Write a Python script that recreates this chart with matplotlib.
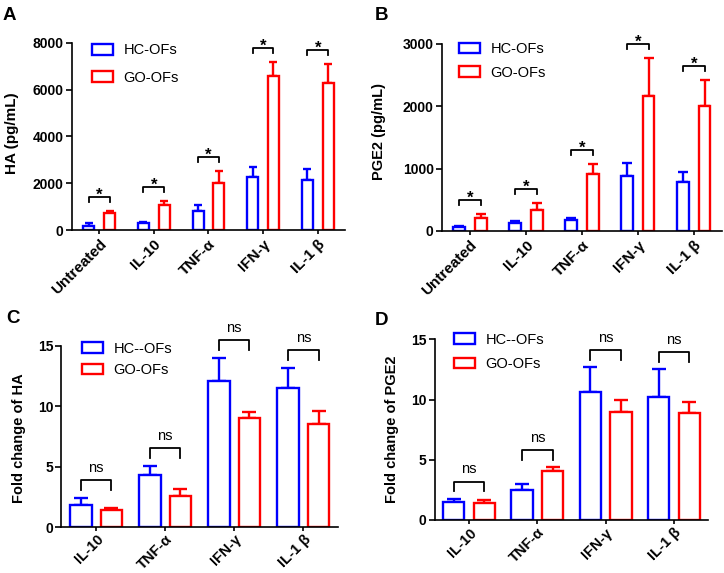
import numpy as np
import matplotlib
matplotlib.use("Agg")
import matplotlib.pyplot as plt

plt.rcParams['font.family'] = ['Liberation Sans', 'DejaVu Sans']

# podatki -------------------------------------------------
kat_AB = ["Untreated", "IL-10", "TNF-α", "IFN-γ", "IL-1 β"]
kat_CD = ["IL-10", "TNF-α", "IFN-γ", "IL-1 β"]

# A: HA (pg/mL)
ha_hc = [170, 285, 830, 2270, 2160]
ha_hc_err = [110, 70, 260, 440, 430]
ha_go = [710, 1070, 2000, 6590, 6270]
ha_go_err = [115, 170, 540, 615, 840]

# B: PGE2 (pg/mL)
pge_hc = [60, 123, 182, 882, 791]
pge_hc_err = [26, 32, 21, 214, 156]
pge_go = [214, 342, 914, 2171, 2011]
pge_go_err = [64, 113, 166, 599, 411]

# C: fold change HA
fc_ha_hc = [1.84, 4.36, 12.11, 11.53]
fc_ha_hc_err = [0.57, 0.71, 1.86, 1.62]
fc_ha_go = [1.45, 2.60, 9.01, 8.55]
fc_ha_go_err = [0.14, 0.60, 0.50, 1.07]

# D: fold change PGE2
fc_pge_hc = [1.52, 2.46, 10.66, 10.19]
fc_pge_hc_err = [0.25, 0.53, 2.02, 2.32]
fc_pge_go = [1.38, 4.10, 8.94, 8.88]
fc_pge_go_err = [0.25, 0.27, 1.02, 0.89]

znaki_AB = ["*", "*", "*", "*", "*"]
znaki_CD = ["ns", "ns", "ns", "ns"]

lw = 1.7


def panel(ax, kat, hc, hc_err, go, go_err, ymax, yticks, ylabel, labels, znaki,
          sirina, zamik, cap, pad, noga, leg_xy, leg_sp, lab_xy, lab_fs, x_fs, x_pad):
    x = np.arange(len(kat))
    n = len(kat)
    ax.bar(x - zamik, hc, sirina, color="white", edgecolor="blue", linewidth=lw,
           label=labels[0], zorder=2)
    ax.bar(x + zamik, go, sirina, color="white", edgecolor="red", linewidth=lw,
           label=labels[1], zorder=2)
    ax.errorbar(x - zamik, hc, yerr=[np.zeros(n), hc_err], fmt="none", ecolor="blue",
                elinewidth=lw, capsize=cap, capthick=lw, zorder=1)
    ax.errorbar(x + zamik, go, yerr=[np.zeros(n), go_err], fmt="none", ecolor="red",
                elinewidth=lw, capsize=cap, capthick=lw, zorder=1)

    # oklepaji z oznakami
    vrh = np.maximum(np.array(hc) + np.array(hc_err), np.array(go) + np.array(go_err))
    for i in range(n):
        y = vrh[i] + pad * ymax
        h = noga * ymax
        ax.plot([x[i] - zamik, x[i] - zamik, x[i] + zamik, x[i] + zamik],
                [y - h, y, y, y - h], color="black", lw=1.3, clip_on=False)
        if znaki[i] == "*":
            ax.annotate("*", (x[i], y), xytext=(0, -2), textcoords="offset points",
                        ha="center", va="baseline", fontsize=12, fontweight="bold",
                        annotation_clip=False)
        else:
            ax.annotate(znaki[i], (x[i], y), xytext=(0, 6), textcoords="offset points",
                        ha="center", va="baseline", fontsize=10.5, annotation_clip=False)

    ax.set_xlim(-0.5, n - 0.5)
    ax.set_ylim(0, ymax)
    ax.set_yticks(yticks)
    ax.set_xticks(x)
    ax.set_xticklabels(kat, rotation=45, ha="right", rotation_mode="anchor",
                       fontsize=x_fs, fontweight="bold")
    for t in ax.get_yticklabels():
        t.set_fontsize(10)
        t.set_fontweight("bold")
    ax.set_ylabel(ylabel, fontsize=lab_fs, fontweight="bold")
    ax.yaxis.set_label_coords(lab_xy[0], lab_xy[1])
    ax.spines["top"].set_visible(False)
    ax.spines["right"].set_visible(False)
    ax.spines["left"].set_linewidth(1.2)
    ax.spines["bottom"].set_linewidth(1.2)
    ax.tick_params(axis="y", direction="out", length=4, width=1.2, pad=2)
    ax.tick_params(axis="x", direction="out", length=3, width=1.2, pad=x_pad)
    ax.legend(loc="upper left", bbox_to_anchor=leg_xy, frameon=False, fontsize=10.5,
              handlelength=1.45, handleheight=0.75, handletextpad=0.7,
              labelspacing=leg_sp, borderpad=0, borderaxespad=0)


fig = plt.figure(figsize=(7.24, 5.73), dpi=100)

axA = fig.add_axes([0.0994, 0.5986, 0.3771, 0.3264])
panel(axA, kat_AB, ha_hc, ha_hc_err, ha_go, ha_go_err, 8000, [0, 2000, 4000, 6000, 8000],
      "HA (pg/mL)", ["HC-OFs", "GO-OFs"], znaki_AB, 0.2, 0.19, 3.2, 0.075, 0.027,
      (0.073, 0.998), 0.92, (-0.193, 0.52), 11, 11, 2)

axB = fig.add_axes([0.6105, 0.5969, 0.3867, 0.3264])
panel(axB, kat_AB, pge_hc, pge_hc_err, pge_go, pge_go_err, 3000, [0, 1000, 2000, 3000],
      "PGE2 (pg/mL)", ["HC-OFs", "GO-OFs"], znaki_AB, 0.21, 0.19, 3.3, 0.075, 0.027,
      (0.061, 1.01), 0.65, (-0.2, 0.53), 10.5, 11, 2)

axC = fig.add_axes([0.0849, 0.0795, 0.3819, 0.3167])
panel(axC, kat_CD, fc_ha_hc, fc_ha_hc_err, fc_ha_go, fc_ha_go_err, 15, [0, 5, 10, 15],
      "Fold change of HA", ["HC--OFs", "GO-OFs"], znaki_CD, 0.31, 0.22, 5, 0.10, 0.055,
      (0.074, 1.024), 0.52, (-0.13, 0.49), 10.5, 10.5, 0.5)

axD = fig.add_axes([0.6008, 0.0925, 0.3771, 0.3154])
panel(axD, kat_CD, fc_pge_hc, fc_pge_hc_err, fc_pge_go, fc_pge_go_err, 15, [0, 5, 10, 15],
      "Fold change of PGE2", ["HC--OFs", "GO-OFs"], znaki_CD, 0.31, 0.225, 5, 0.095, 0.055,
      (0.07, 1.037), 0.71, (-0.13, 0.5), 10.5, 10.5, 1)

# oznake panelov
fig.text(0.004, 0.965, "A", fontsize=13.5, fontweight="bold", va="baseline")
fig.text(0.518, 0.965, "B", fontsize=13.5, fontweight="bold", va="baseline")
fig.text(0.009, 0.436, "C", fontsize=13.5, fontweight="bold", va="baseline")
fig.text(0.518, 0.433, "D", fontsize=13.5, fontweight="bold", va="baseline")

fig.savefig("out.png", dpi=100)
